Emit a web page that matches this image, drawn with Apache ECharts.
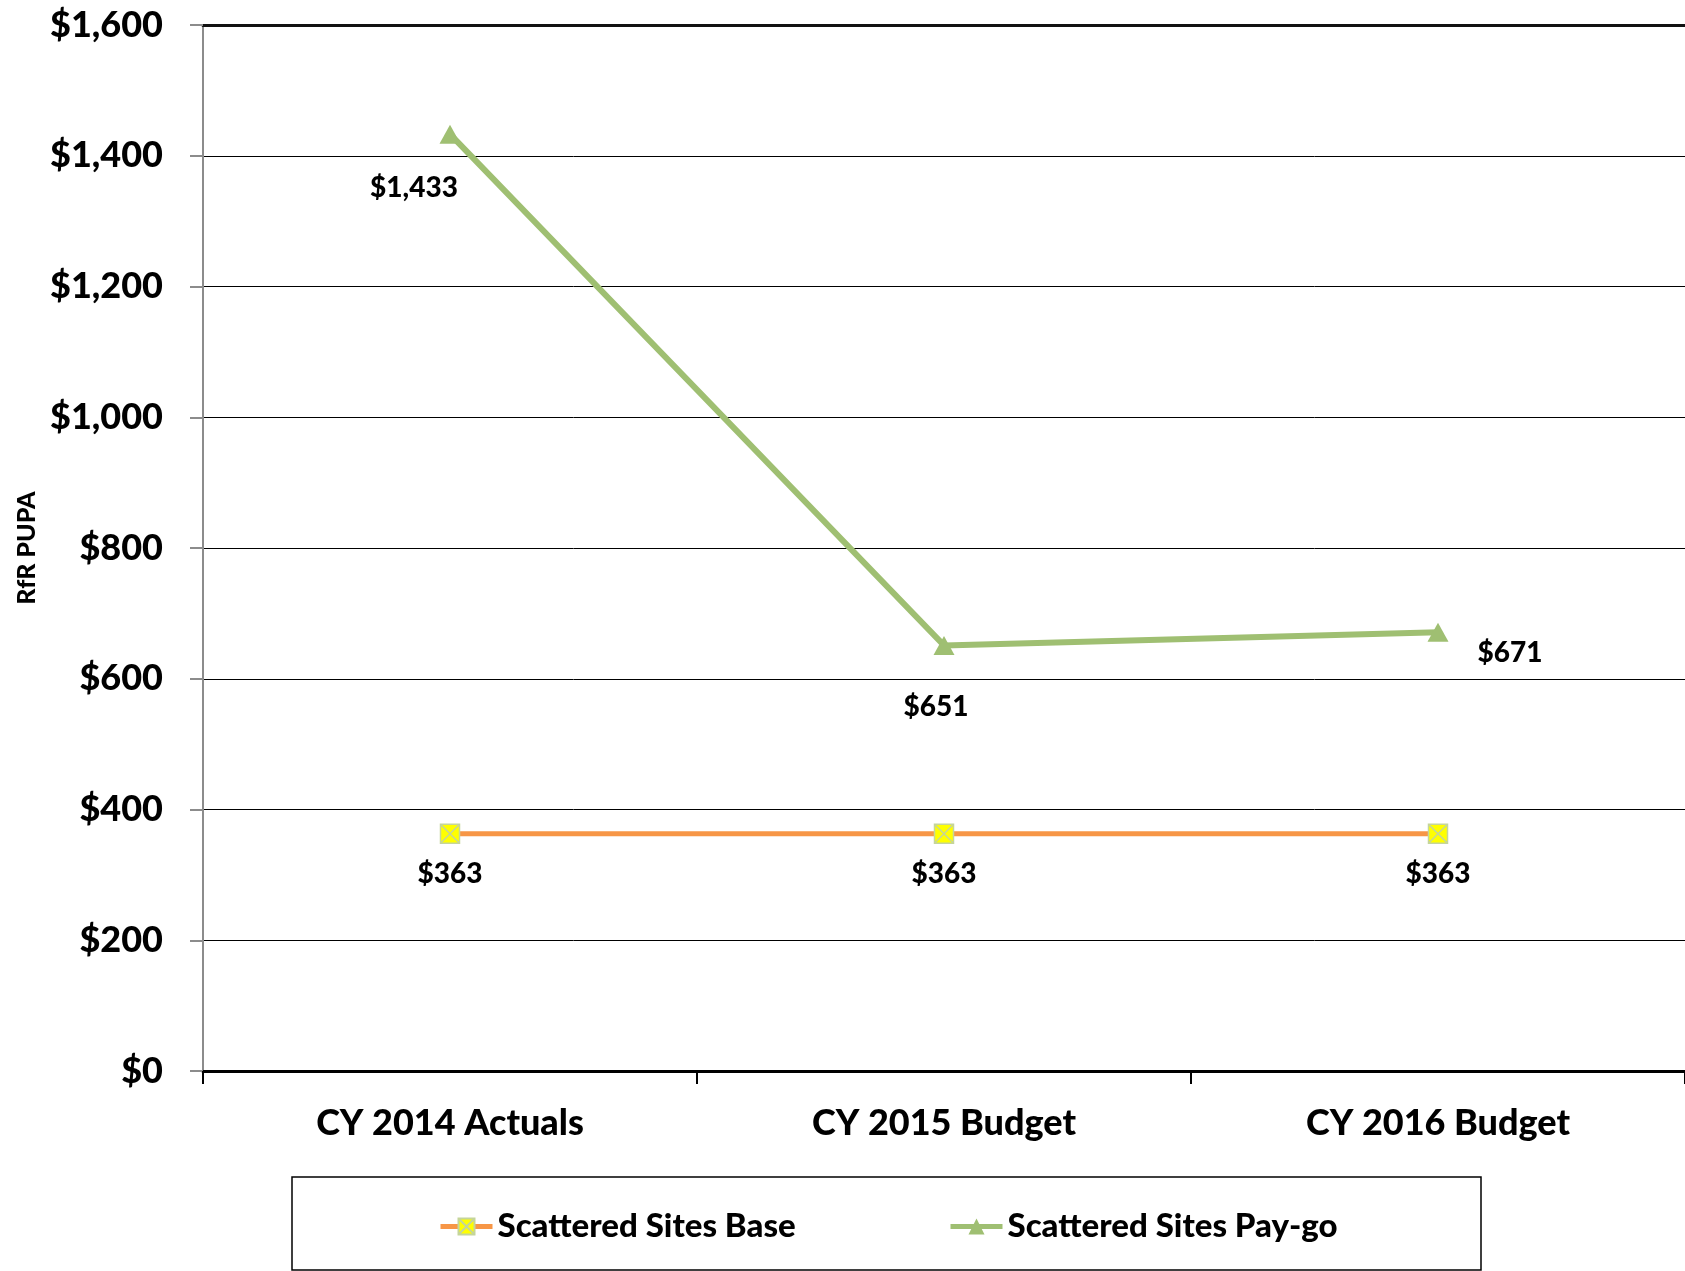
<!DOCTYPE html>
<html>
<head>
<meta charset="utf-8">
<title>RfR PUPA – Scattered Sites</title>
<script src="https://cdn.jsdelivr.net/npm/echarts@6/dist/echarts.min.js"></script>
<style>
  html, body { margin: 0; padding: 0; background: #fff; }
  #chart { width: 1685px; height: 1271px; }
</style>
</head>
<body>
<div id="chart"></div>
<script>
// Categories and values
const categories = ['CY 2014 Actuals', 'CY 2015 Budget', 'CY 2016 Budget'];
const baseValues = [363, 363, 363];
const paygoValues = [1433, 651, 671];
const seriesNames = ['Scattered Sites Base', 'Scattered Sites Pay-go'];
const yMin = 0, yMax = 1600, yStep = 200;

// Hand-placed data label offsets (px from each point)
const baseLabelOffsets = [[0, 40], [0, 40], [0, 40]];
const paygoLabelOffsets = [[-36, 54], [-8, 62], [72, 21]];

const FONT = 'Lato, "Open Sans", sans-serif';
const WEIGHT = 900;
const ORANGE = '#F79646';
const GREEN = '#9FBF72';

const money = v => '$' + Number(v).toLocaleString('en-US');

// Yellow square with a light cross through it
const crossBox = 'path://M0,0L20,0L20,20L0,20Z M0,0L20,20 M20,0L0,20';

function withOffsets(values, offsets) {
  return values.map((v, i) => ({
    value: v,
    label: { offset: offsets[i] }
  }));
}

const chart = echarts.init(document.getElementById('chart'), null, { renderer: 'canvas' });

const labelStyle = {
  show: true,
  position: 'inside',
  formatter: p => money(p.value),
  fontFamily: FONT,
  fontWeight: WEIGHT,
  fontSize: 28,
  color: '#000'
};

const legendText = { fontFamily: FONT, fontWeight: WEIGHT, fontSize: 33, color: '#000' };

chart.setOption({
  animation: false,
  backgroundColor: '#fff',
  grid: { left: 203, right: -3, top: 25, bottom: 200, containLabel: false },
  xAxis: [{
    type: 'category',
    data: categories,
    boundaryGap: true,
    axisLine: { show: true, lineStyle: { color: '#000', width: 3 } },
    axisTick: { show: true, length: 13, inside: false, lineStyle: { color: '#000', width: 2 } },
    axisLabel: { margin: 34, fontFamily: FONT, fontWeight: WEIGHT, fontSize: 36, color: '#000' },
    splitLine: { show: false }
  }, {
    type: 'category',
    data: categories,
    position: 'top',
    axisLine: { show: true, lineStyle: { color: '#111', width: 3 } },
    axisTick: { show: false },
    axisLabel: { show: false },
    splitLine: { show: false }
  }],
  yAxis: {
    type: 'value',
    min: yMin,
    max: yMax,
    interval: yStep,
    name: 'RfR PUPA',
    nameLocation: 'middle',
    nameGap: 163,
    nameRotate: 90,
    nameTextStyle: { fontFamily: FONT, fontWeight: WEIGHT, fontSize: 25, color: '#000' },
    axisLine: { show: true, lineStyle: { color: '#8c8c8c', width: 2 } },
    axisTick: { show: true, length: 13, lineStyle: { color: '#8c8c8c', width: 2 } },
    axisLabel: {
      margin: 40,
      formatter: v => money(v),
      fontFamily: FONT, fontWeight: WEIGHT, fontSize: 36, color: '#000'
    },
    splitLine: { show: true, lineStyle: { color: '#000', width: 1 } }
  },
  legend: [{
    data: [seriesNames[0]],
    left: 433, top: 1205,
    itemWidth: 52, itemHeight: 20,
    lineStyle: { width: 5 },
    textStyle: legendText
  }, {
    data: [seriesNames[1]],
    left: 943, top: 1205,
    itemWidth: 52, itemHeight: 20,
    lineStyle: { width: 5 },
    textStyle: legendText
  }],
  graphic: [{
    type: 'rect',
    shape: { x: 292, y: 1177, width: 1189, height: 93 },
    style: { fill: 'none', stroke: '#000', lineWidth: 1.5 },
    silent: true
  }],
  series: [{
    name: seriesNames[0],
    type: 'line',
    data: withOffsets(baseValues, baseLabelOffsets),
    symbol: crossBox,
    symbolSize: 19,
    showAllSymbol: true,
    lineStyle: { color: ORANGE, width: 5 },
    itemStyle: { color: '#FFFF00', borderColor: '#C5D59A', borderWidth: 1.5 },
    label: labelStyle,
    z: 3
  }, {
    name: seriesNames[1],
    type: 'line',
    data: withOffsets(paygoValues, paygoLabelOffsets),
    symbol: 'triangle',
    symbolSize: [21, 19],
    showAllSymbol: true,
    lineStyle: { color: GREEN, width: 6 },
    itemStyle: { color: GREEN, borderWidth: 0 },
    label: labelStyle,
    z: 3
  }]
});
</script>
</body>
</html>
